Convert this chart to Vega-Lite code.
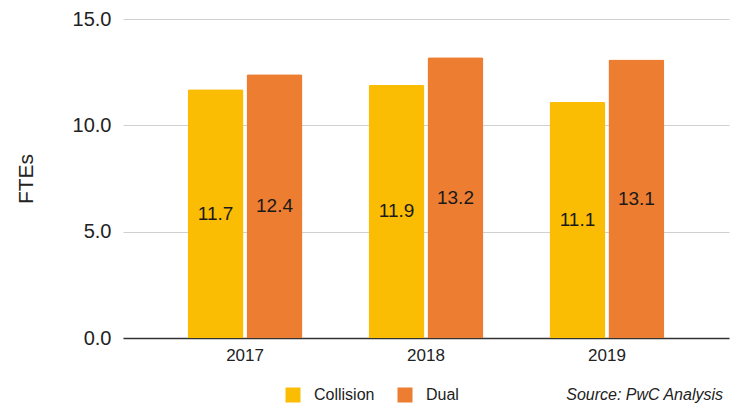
{
  "$schema": "https://vega.github.io/schema/vega-lite/v6.json",
  "autosize": "none",
  "width": 606,
  "height": 319,
  "padding": {"left": 123, "top": 19, "right": 10, "bottom": 66},
  "background": "white",
  "config": {
    "font": "Liberation Sans",
    "view": {"stroke": null}
  },
  "title": {
    "text": "Source: PwC Analysis",
    "orient": "bottom",
    "anchor": "end",
    "frame": "group",
    "fontStyle": "italic",
    "fontWeight": "normal",
    "fontSize": 16,
    "color": "#222222",
    "offset": 0,
    "dy": -16,
    "dx": -6
  },
  "data": {
    "values": [
      {"year": "2017", "series": "Collision", "fte": 11.7},
      {"year": "2017", "series": "Dual", "fte": 12.4},
      {"year": "2018", "series": "Collision", "fte": 11.9},
      {"year": "2018", "series": "Dual", "fte": 13.2},
      {"year": "2019", "series": "Collision", "fte": 11.1},
      {"year": "2019", "series": "Dual", "fte": 13.1}
    ]
  },
  "encoding": {
    "x": {
      "field": "year",
      "type": "nominal",
      "scale": {"paddingInner": 0.365, "paddingOuter": 0.357},
      "axis": {
        "title": null,
        "labelAngle": 0,
        "labelFontSize": 17,
        "labelColor": "#222222",
        "labelPadding": 9,
        "ticks": false,
        "domainColor": "#333333",
        "domainWidth": 1.5,
        "grid": false
      }
    },
    "xOffset": {"field": "series", "type": "nominal", "scale": {"paddingInner": 0.05}}
  },
  "layer": [
    {
      "mark": {"type": "bar", "cornerRadiusTopLeft": 2, "cornerRadiusTopRight": 2},
      "encoding": {
        "y": {
          "field": "fte",
          "type": "quantitative",
          "scale": {"domain": [0, 15], "nice": false},
          "axis": {
            "title": "FTEs",
            "titleFontSize": 21,
            "titleFontWeight": "normal",
            "titleColor": "#222222",
            "titlePadding": 36,
            "values": [0, 5, 10, 15],
            "format": ".1f",
            "labelFontSize": 20,
            "labelColor": "#222222",
            "labelPadding": 12,
            "ticks": false,
            "domain": false,
            "gridColor": "#d0d0d0",
            "gridWidth": 1
          }
        },
        "color": {
          "field": "series",
          "type": "nominal",
          "scale": {"domain": ["Collision", "Dual"], "range": ["#FBBC04", "#ED7D31"]},
          "legend": {
            "title": null,
            "orient": "none",
            "direction": "horizontal",
            "legendX": 162,
            "legendY": 368,
            "symbolType": "square",
            "symbolSize": 225,
            "symbolStrokeWidth": 0,
            "labelFontSize": 16,
            "labelColor": "#222222",
            "labelOffset": 13,
            "columnPadding": 22
          }
        }
      }
    },
    {
      "transform": [{"calculate": "datum.fte / 2", "as": "labelPos"}],
      "mark": {"type": "text", "fontSize": 19, "color": "#1a1a1a", "baseline": "middle"},
      "encoding": {
        "y": {"field": "labelPos", "type": "quantitative"},
        "text": {"field": "fte", "type": "quantitative", "format": ".1f"}
      }
    }
  ]
}
